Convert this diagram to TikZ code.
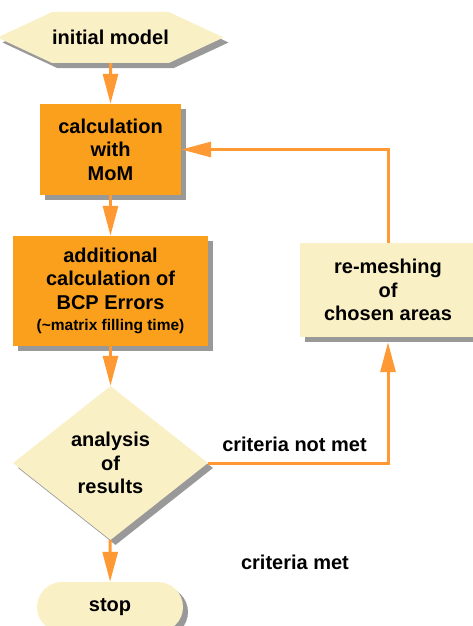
\documentclass[tikz,border=0pt]{standalone}
\usepackage{fontspec}
\setmainfont{Liberation Sans}
\usetikzlibrary{arrows.meta,shapes.geometric,shapes.misc,shapes.symbols,shadows}
\definecolor{boxorange}{RGB}{250,160,28}
\definecolor{paleyellow}{RGB}{250,240,197}
\definecolor{arroworange}{RGB}{255,153,51}
\definecolor{shadowgray}{RGB}{153,153,153}

\begin{document}
\begin{tikzpicture}[x=1pt, y=-1pt,
  font=\fontsize{20}{23.5}\selectfont\bfseries,
  boxshadow/.style={general shadow={fill=shadowgray, shadow xshift=5pt, shadow yshift=-5pt}},
  calcbox/.style={rectangle, fill=boxorange, boxshadow, align=center, inner sep=0pt},
  notebox/.style={rectangle, fill=paleyellow, boxshadow, align=center, inner sep=0pt},
  flow/.style={draw=arroworange, line width=3pt, -{Triangle[length=30pt,width=15pt]}}]

  \useasboundingbox (0,0) rectangle (472,626);

  % nodes
  \node[signal, signal to=west and east, signal pointer angle=50, fill=paleyellow,
        boxshadow, minimum width=213pt, minimum height=51pt, inner sep=0pt]
        (init) at (110.5,37.5) {initial model};
  \node[calcbox, minimum width=141pt, minimum height=91pt] (mom) at (110.5,149.5)
        {calculation\\with\\MoM};
  \node[calcbox, minimum width=195pt, minimum height=110pt] (bcp) at (110.5,291)
        {additional\\calculation of\\BCP Errors\\[-2pt]
         {\fontsize{15.5}{18}\selectfont(\textasciitilde matrix filling time)}};
  \node[diamond, fill=paleyellow, boxshadow, align=center, inner sep=0pt,
        minimum width=195pt, minimum height=154pt] (analysis) at (110.5,463)
        {analysis\\of\\results};
  \node[rounded rectangle, fill=paleyellow, boxshadow, minimum width=146pt,
        minimum height=50pt, inner sep=0pt] (stop) at (110,607) {stop};
  \node[notebox, minimum width=176pt, minimum height=94pt] (remesh) at (388,290)
        {re-meshing\\of\\chosen areas};
  \node (met) at (295,562) {criteria met};

  % connectors
  \draw[flow] (init) -- (mom);
  \draw[flow] (mom) -- (bcp);
  \draw[flow] (bcp) -- (analysis);
  \draw[flow] (analysis) -- (stop);
  \draw[flow] (analysis.east) -| node[pos=0.24, above=6pt] (notmet) {criteria not met}
        ([yshift=-5pt]remesh.south);
  \draw[flow] (remesh.north) |- (mom.east);

\end{tikzpicture}
\end{document}
